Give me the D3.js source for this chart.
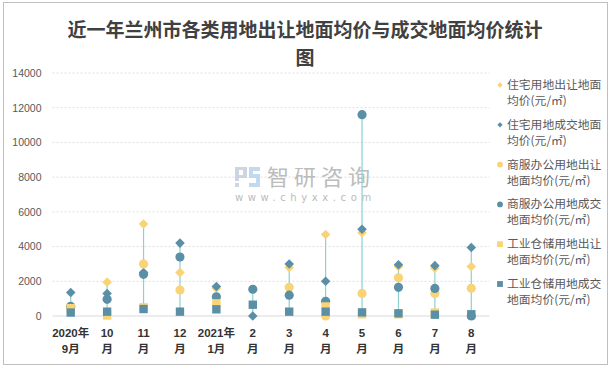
<!DOCTYPE html>
<html>
<head>
<meta charset="utf-8">
<script src="https://cdn.jsdelivr.net/npm/d3@7"></script>
<style>
  body { margin: 0; background: #fff; }
  svg { display: block; }
</style>
</head>
<body>
<div id="chart"></div>
<script>
// categories and series
const categories = ["2020年9月", "10月", "11月", "12月", "2021年1月", "2月", "3月", "4月", "5月", "6月", "7月", "8月"];
const zhuzhaiChurang = [null, 1950, 5300, 2500, 1600, null, 2800, 4700, 4800, 2850, 2750, 2850];
const zhuzhaiChengjiao = [1350, 1300, 2500, 4200, 1700, 0, 3000, 2000, 5000, 2950, 2900, 3950];
const shangfuChurang = [500, null, 3000, 1500, null, null, 1650, 0, 1300, 2200, 1300, 1600];
const shangfuChengjiao = [550, 960, 2400, 3400, 1110, 1540, 1200, 850, 11600, 1650, 1590, 0];
const gongyeChurang = [450, 30, 500, null, 730, null, null, 550, 100, 100, 200, null];
const gongyeChengjiao = [200, 250, 400, 250, 385, 650, 250, 250, 210, 155, 75, 100];
const yTicks = [0, 2000, 4000, 6000, 8000, 10000, 12000, 14000];

const yellow = "#f9d374", blue = "#5a8fa5";

const series = [
  { name: "住宅用地出让地面均价(元/㎡)", values: zhuzhaiChurang, color: yellow, shape: "diamond" },
  { name: "住宅用地成交地面均价(元/㎡)", values: zhuzhaiChengjiao, color: blue, shape: "diamond" },
  { name: "商服办公用地出让地面均价(元/㎡)", values: shangfuChurang, color: yellow, shape: "circle" },
  { name: "商服办公用地成交地面均价(元/㎡)", values: shangfuChengjiao, color: blue, shape: "circle" },
  { name: "工业仓储用地出让地面均价(元/㎡)", values: gongyeChurang, color: yellow, shape: "square" },
  { name: "工业仓储用地成交地面均价(元/㎡)", values: gongyeChengjiao, color: blue, shape: "square" }
];

const W = 611, H = 369;
const plot = { left: 52.5, right: 489.5, top: 73, bottom: 316 };

const svg = d3.select("#chart").append("svg")
  .attr("width", W)
  .attr("height", H);

// outer frame
svg.append("rect")
  .attr("x", 3.5).attr("y", 2.5)
  .attr("width", 604).attr("height", 362)
  .attr("fill", "none")
  .attr("stroke", "#bfbfbf");

// title
const title = svg.append("text")
  .attr("text-anchor", "middle")
  .attr("font-family", "'Noto Sans CJK SC', sans-serif")
  .attr("font-weight", "bold")
  .attr("font-size", "19px")
  .attr("fill", "#404040");
title.append("tspan").attr("x", 305).attr("y", 37).text("近一年兰州市各类用地出让地面均价与成交地面均价统计");
title.append("tspan").attr("x", 305).attr("y", 65).text("图");

const x = d3.scaleBand().domain(categories).range([plot.left, plot.right]);
const y = d3.scaleLinear().domain([0, 14000]).range([plot.bottom, plot.top]);

// grid
svg.append("g")
  .selectAll("line")
  .data(yTicks.filter(d => d > 0))
  .join("line")
  .attr("x1", plot.left).attr("x2", plot.right)
  .attr("y1", d => y(d)).attr("y2", d => y(d))
  .attr("stroke", "#dedede")
  .attr("stroke-dasharray", "2,2");

svg.append("line")
  .attr("x1", plot.left).attr("x2", plot.right)
  .attr("y1", y(0)).attr("y2", y(0))
  .attr("stroke", "#d9d9d9");

// y axis labels
svg.append("g")
  .attr("transform", "translate(" + (plot.left - 11) + ",0)")
  .call(d3.axisLeft(y).tickValues(yTicks).tickFormat(d3.format("d")).tickSize(0).tickPadding(0))
  .call(g => g.select(".domain").remove())
  .call(g => g.selectAll("text")
    .attr("font-family", "'Liberation Sans', Arial, sans-serif")
    .attr("font-size", "10.5px")
    .attr("fill", "#595959"));

// x axis labels, two lines each
const xl = svg.append("g")
  .selectAll("text")
  .data(categories)
  .join("text")
  .attr("text-anchor", "middle")
  .attr("font-family", "'Liberation Sans', 'Noto Sans CJK SC', sans-serif")
  .attr("font-weight", "bold")
  .attr("font-size", "11.5px")
  .attr("fill", "#333");
xl.each(function (d) {
  const cx = x(d) + x.bandwidth() / 2;
  let parts;
  if (d.indexOf("年") >= 0) parts = [d.slice(0, d.indexOf("年") + 1), d.slice(d.indexOf("年") + 1)];
  else parts = [d.replace("月", ""), "月"];
  d3.select(this).selectAll("tspan")
    .data(parts)
    .join("tspan")
    .attr("x", cx)
    .attr("y", (p, i) => 337 + i * 16)
    .text(p => p);
});

// watermark
const wm = svg.append("g").attr("opacity", 0.9);
wm.append("path")
  .attr("d", "M235,167h12v11h-8v3h-4zM239,170v5h4v-5zM235,183h4v4h-4z")
  .attr("fill", "#c8d0df");
wm.append("path")
  .attr("d", "M249,167h11v4h-7v3h7v13h-11v-4h7v-5h-7z")
  .attr("fill", "#bcd7ee");
wm.append("text")
  .attr("x", 267).attr("y", 185)
  .attr("font-family", "'Noto Sans CJK SC', sans-serif")
  .attr("font-size", "22px")
  .attr("letter-spacing", "5px")
  .attr("fill", "#b5b5b5")
  .text("智研咨询");
wm.append("text")
  .attr("x", 235).attr("y", 201)
  .attr("font-family", "'DejaVu Sans', sans-serif")
  .attr("font-size", "10px")
  .attr("letter-spacing", "4.6px")
  .attr("fill", "#b5b5b5")
  .text("www.chyxx.com");

// high-low lines
const hilo = categories.map((c, i) => {
  const vals = series.map(s => s.values[i]).filter(v => v != null);
  return { c: c, lo: d3.min(vals), hi: d3.max(vals) };
});
svg.append("g")
  .selectAll("line")
  .data(hilo)
  .join("line")
  .attr("x1", d => x(d.c) + x.bandwidth() / 2)
  .attr("x2", d => x(d.c) + x.bandwidth() / 2)
  .attr("y1", d => y(d.lo))
  .attr("y2", d => y(d.hi))
  .attr("stroke", "#8fcfcf")
  .attr("stroke-width", 1.2);

function marker(shape, big) {
  if (shape === "diamond") return d3.symbol(d3.symbolSquare, big ? 46 : 14)();
  if (shape === "circle") return d3.symbol(d3.symbolCircle, big ? 66 : 26)();
  return d3.symbol(d3.symbolSquare, big ? 70 : 34)();
}

// markers
series.forEach(s => {
  svg.append("g")
    .selectAll("path")
    .data(categories.map((c, i) => ({ c: c, v: s.values[i] })).filter(d => d.v != null))
    .join("path")
    .attr("d", marker(s.shape, true))
    .attr("transform", d => "translate(" + (x(d.c) + x.bandwidth() / 2) + "," + y(d.v) + ")" +
      (s.shape === "diamond" ? " rotate(45)" : ""))
    .attr("fill", s.color);
});

// legend
const legend = svg.append("g")
  .selectAll("g")
  .data(series)
  .join("g")
  .attr("transform", (d, i) => "translate(500," + (85 + i * 39.8) + ")");
legend.append("path")
  .attr("d", d => marker(d.shape, false))
  .attr("transform", d => d.shape === "diamond" ? "rotate(45)" : "")
  .attr("fill", d => d.color);
legend.append("text")
  .attr("font-family", "'Noto Sans CJK SC', sans-serif")
  .attr("font-size", "11.8px")
  .attr("fill", "#595959")
  .each(function (d) {
    const lines = [d.name.slice(0, 8), d.name.slice(8)];
    d3.select(this).selectAll("tspan")
      .data(lines)
      .join("tspan")
      .attr("x", 7)
      .attr("y", (p, i) => 4 + i * 16)
      .text(p => p);
  });
</script>
</body>
</html>
